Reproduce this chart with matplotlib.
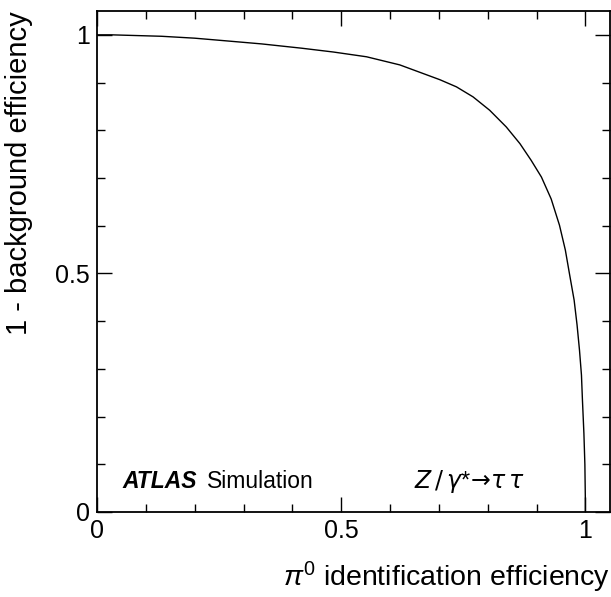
import matplotlib
matplotlib.use('Agg')
import matplotlib.pyplot as plt
from matplotlib.ticker import MultipleLocator

# pi0 efficiency vs 1 - background efficiency
sig_eff = [0.0, 0.03, 0.132, 0.2, 0.269, 0.337, 0.419, 0.484, 0.552, 0.620,
           0.702, 0.736, 0.770, 0.804, 0.838, 0.866, 0.889, 0.910, 0.930,
           0.947, 0.959, 0.968, 0.977, 0.983, 0.988, 0.992, 0.994, 0.997,
           0.999, 1.0, 1.0]
bkg_rej = [1.0, 1.0, 0.997, 0.993, 0.987, 0.981, 0.972, 0.964, 0.954, 0.937,
           0.906, 0.891, 0.870, 0.842, 0.807, 0.772, 0.737, 0.702, 0.656,
           0.601, 0.549, 0.496, 0.444, 0.392, 0.339, 0.287, 0.235, 0.165,
           0.100, 0.025, 0.0]

plt.rcParams['font.family'] = ['Liberation Sans', 'DejaVu Sans']
plt.rcParams['mathtext.fontset'] = 'custom'
plt.rcParams['mathtext.rm'] = 'Liberation Sans'
plt.rcParams['mathtext.it'] = 'Liberation Sans:italic'

fig = plt.figure(figsize=(6.11, 5.97), dpi=100)
ax = fig.add_axes([0.1588, 0.1424, 0.8392, 0.8392])

ax.plot(sig_eff, bkg_rej, color='black', linewidth=1.0)

ax.set_xlim(0, 1.05)
ax.set_ylim(0, 1.05)
for s in ax.spines.values():
    s.set_linewidth(1.3)

ax.xaxis.set_major_locator(MultipleLocator(0.5))
ax.xaxis.set_minor_locator(MultipleLocator(0.1))
ax.yaxis.set_major_locator(MultipleLocator(0.5))
ax.yaxis.set_minor_locator(MultipleLocator(0.1))
ax.set_xticks([0, 0.5, 1])
ax.set_xticklabels(['0', '0.5', '1'])
ax.set_yticks([0, 0.5, 1])
ax.set_yticklabels(['0', '0.5', '1'])
ax.tick_params(which='both', direction='in', top=True, right=True, width=1.0, labelsize=18)
ax.tick_params(which='major', length=11)
ax.tick_params(which='minor', length=6)
ax.tick_params(axis='x', pad=5)
ax.tick_params(axis='y', pad=5)

ax.set_xlabel(r'$\pi^{\mathit{0}}$ identification efficiency', fontsize=20.5, loc='right')
ax.xaxis.set_label_coords(1.0, -0.095)
ax.set_ylabel('1 - background efficiency', fontsize=21, loc='top')
ax.yaxis.set_label_coords(-0.125, 1.0)

atlas = ax.text(0.05, 0.048, 'ATLAS', transform=ax.transAxes, fontsize=16.5,
                fontweight='bold', fontstyle='italic', va='baseline')
ax.annotate('Simulation', xy=(1, 0), xycoords=atlas, xytext=(7, 0),
            textcoords='offset points', fontsize=16.5, va='bottom')
ax.text(0.618, 0.048, r'$Z\,/\,\gamma$*$\!\rightarrow\!\tau\,\tau$', transform=ax.transAxes,
        fontsize=17, va='baseline', math_fontfamily='dejavusans')

fig.savefig('out.png', dpi=100)
